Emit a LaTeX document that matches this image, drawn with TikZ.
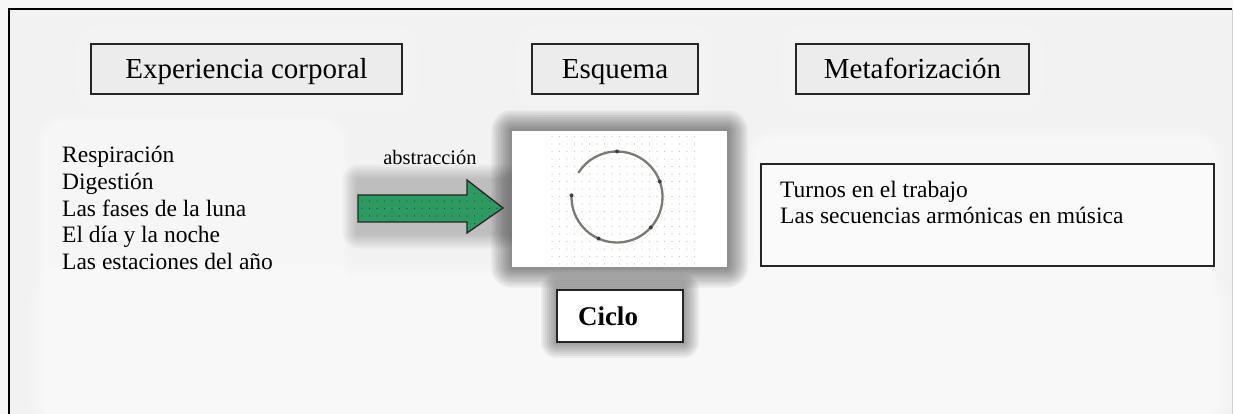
\documentclass[tikz,border=0pt]{standalone}
\usepackage{fontspec}
\setmainfont{Liberation Serif}
\definecolor{pagebg}{HTML}{F2F2F2}
\definecolor{boxbg}{HTML}{ECECEC}
\definecolor{arrowgreen}{HTML}{2E9A62}
\definecolor{dotgreen}{HTML}{174F32}
\definecolor{ringgray}{HTML}{7A7A72}
% soft halo: colour, opacity per layer, layers, step, x1, y1, x2, y2
\newcommand{\softhalo}[8]{%
  \foreach \k in {1,...,#3}{%
    \fill[#1, opacity=#2, rounded corners=\k*#4]
      (#5-\k*#4, #6-\k*#4) rectangle (#7+\k*#4, #8+\k*#4);}}
\begin{document}
\begin{tikzpicture}[x=1pt,y=1pt,
  headbox/.style={draw=black!85, line width=1.3pt, fill=boxbg, inner sep=0pt,
    minimum height=50pt, text height=32pt, text depth=12pt,
    font=\fontsize{29}{33}\selectfont},
  plaintext/.style={inner sep=0pt, align=left, anchor=west},
  ringmark/.style={fill=black!75},
]
\useasboundingbox (0,0) rectangle (1233,414);
\fill[white!97!black] (0,0) rectangle (1233,414);
\fill[pagebg] (9,0) rectangle (1232,405);

% white glows behind the texts
\softhalo{white}{0.1}{12}{2.5}{65}{145}{320}{270}
\softhalo{white}{0.12}{12}{2.5}{775}{155}{1195}{255}
\softhalo{white}{0.08}{8}{3}{100}{325}{395}{365}
\softhalo{white}{0.08}{8}{3}{540}{325}{690}{365}
\softhalo{white}{0.08}{8}{3}{805}{325}{1020}{365}
\softhalo{white}{0.14}{12}{3.5}{70}{15}{1190}{110}

% frame
\draw[black, line width=2pt] (9,0) -- (9,405) -- (1232,405);
\draw[gray!35, line width=1pt] (1232,405) -- (1232,0);

% dark shadows
\softhalo{black}{0.055}{9}{2.3}{512}{147}{727}{283}
\softhalo{black}{0.05}{8}{2}{557}{72}{683}{124}
\softhalo{black}{0.03}{7}{2.2}{358}{181}{503}{234}

% column headings
\node[headbox, minimum width=311pt] (exp) at (246.5,345) {Experiencia corporal};
\node[headbox, minimum width=166pt] (esq) at (615,345) {Esquema};
\node[headbox, minimum width=233pt] (met) at (912.5,345) {Metaforización};

% bodily experiences
\node[plaintext, font=\fontsize{23.5}{26.7}\selectfont] (list) at (62,206)
  {Respiración\\Digestión\\Las fases de la luna\\El día y la noche\\Las estaciones del año};

% abstraction label and arrow
\node[inner sep=0pt, font=\fontsize{20.5}{24}\selectfont] (abs) at (430,257) {abstracción};
\begin{scope}
  \path[clip] (358,219) -- (467,219) -- (467,234) -- (503,206) -- (467,181)
    -- (467,192) -- (358,192) -- cycle;
  \fill[arrowgreen] (350,175) rectangle (510,240);
  \foreach \i in {0,...,20}{\foreach \j in {0,...,8}{
    \fill[dotgreen] (362+\i*7.5, 183+\j*7.5) circle (0.6);}}
\end{scope}
\draw[black!85, line width=1.3pt, line join=miter] (358,219) -- (467,219) -- (467,234)
  -- (503,206) -- (467,181) -- (467,192) -- (358,192) -- cycle;

% schema picture
\node[fill=white, minimum width=215pt, minimum height=136pt, inner sep=0pt] (img) at (619.5,215) {};
\foreach \i in {0,...,19}{\foreach \j in {0,...,17}{
  \fill[gray!45] (552+\i*7.5, 150+\j*7.5) circle (0.55);}}
\coordinate (ring) at (617,217);
\draw[ringgray, line width=2.3pt] (ring) ++(178:45.5) arc[start angle=178, end angle=508, radius=45.5];
\foreach \a in {90,20,-42,-114,178}{
  \fill[ringmark] (ring) ++(\a:45.5) circle (2);}

% name of the schema
\node[draw=black!85, line width=1.3pt, fill=white, minimum width=126pt, minimum height=52pt,
  inner xsep=21pt, text width=84pt, align=left, font=\bfseries\fontsize{27}{30}\selectfont]
  (ciclo) at (620,98) {Ciclo};

% metaphorical projections
\node[draw=black!85, line width=1.3pt, fill=white!60!pagebg, minimum width=453pt,
  minimum height=102pt, inner sep=0pt] (proj) at (987.5,199) {};
\node[plaintext, font=\fontsize{23.5}{26}\selectfont] (projtext) at (780,212)
  {Turnos en el trabajo\\Las secuencias armónicas en música};
\end{tikzpicture}
\end{document}
